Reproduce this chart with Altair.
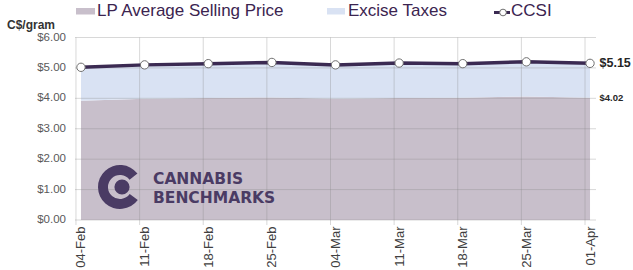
import altair as alt
import pandas as pd

# ---- data ----
dates = ["04-Feb", "11-Feb", "18-Feb", "25-Feb", "04-Mar", "11-Mar", "18-Mar", "25-Mar", "01-Apr"]
lp_price = [3.92, 3.99, 4.01, 4.03, 3.99, 4.01, 4.02, 4.06, 4.02]
ccsi = [5.02, 5.10, 5.14, 5.18, 5.10, 5.16, 5.14, 5.20, 5.15]
y_ticks = [0, 1, 2, 3, 4, 5, 6]
legend_names = ["LP Average Selling Price", "Excise Taxes", "CCSI"]
unit_label = "C$/gram"
logo_lines = ["CANNABIS", "BENCHMARKS"]

LP_C = "#c8bfcb"
EX_C = "#d9e2f3"
LINE_C = "#3b2a52"
TXT_C = "#3b2450"
LOGO_C = "#4a3b64"
FONT = "Liberation Sans"

df = pd.DataFrame({"date": dates, "lp": lp_price, "ccsi": ccsi})
last = df.tail(1)
grid_df = pd.DataFrame({"v": y_ticks})

xscale = alt.Scale(type="point", padding=0.094)
yscale = alt.Scale(domain=[0, 6])

x_axis = alt.Axis(title=None, labelAngle=-90, labelFontSize=13, labelColor="#404040",
                  labelFont=FONT, labelPadding=6, domain=False, ticks=False, grid=False,
                  labelOverlap=False)
# y axis kept invisible; its labels are drawn as text marks through the same y scale
y_axis = alt.Axis(title=None, labels=False, domain=False, ticks=False, grid=False)

X = alt.X("date:O", sort=dates, scale=xscale, axis=x_axis)


def Y(field):
    return alt.Y(field, scale=yscale, axis=y_axis)


base = alt.Chart(df)

lp_area = base.mark_area(color=LP_C, opacity=1).encode(x=X, y=Y("lp:Q"), y2=alt.datum(0))
ex_area = base.mark_area(color=EX_C, opacity=1).encode(x=X, y=Y("ccsi:Q"), y2="lp:Q")
hgrid = alt.Chart(grid_df).mark_rule(color="#888888", opacity=0.33, strokeWidth=1).encode(y=Y("v:Q"))
ylabels = alt.Chart(grid_df).mark_text(align="right", baseline="middle", dx=-9, fontSize=11.5,
                                       font=FONT, color="#595959").encode(
    x=alt.value(0), y=Y("v:Q"), text=alt.Text("v:Q", format="$.2f"))
vgrid = base.mark_rule(color="#888888", opacity=0.33, strokeWidth=1, xOffset=-5, y2Offset=5).encode(
    x=X, y=alt.datum(6), y2=alt.datum(0))
line = base.mark_line(color=LINE_C, strokeWidth=3.5).encode(x=X, y=Y("ccsi:Q"))
pts = base.mark_point(shape="circle", filled=True, fill="white", stroke="#707070",
                      strokeWidth=1, size=70, opacity=1).encode(x=X, y=Y("ccsi:Q"))
lab_ccsi = alt.Chart(last).mark_text(align="left", baseline="middle", dx=9.5, fontSize=12.5,
                                     fontWeight="bold", font=FONT, color="#262626").encode(
    x=X, y=Y("ccsi:Q"), text=alt.Text("ccsi:Q", format="$.2f"))
lab_lp = alt.Chart(last).mark_text(align="left", baseline="middle", dx=9.5, dy=0.5, fontSize=9.5,
                                   fontWeight="bold", font=FONT, color="#262626").encode(
    x=X, y=Y("lp:Q"), text=alt.Text("lp:Q", format="$.2f"))

# ---- logo ----
one = pd.DataFrame({"a": [0]})
logo_c = alt.Chart(one).mark_arc(radius=22, radius2=12, color=LOGO_C).encode(
    x=alt.value(45), y=alt.value(149.5), theta=alt.value(2.2), theta2=alt.value(7.2))
logo_dot = alt.Chart(one).mark_point(shape="circle", filled=True, color=LOGO_C, size=230, opacity=1).encode(
    x=alt.value(47), y=alt.value(149.5))
logo_txt = alt.Chart(one).mark_text(text=logo_lines, align="left", baseline="alphabetic",
                                    lineHeight=18.5, font="DejaVu Sans", fontWeight="bold",
                                    fontSize=15.5, color=LOGO_C).encode(
    x=alt.value(78), y=alt.value(146.5))

# ---- legend (top) ----
leg_sq1 = alt.Chart(one).mark_rect(color=LP_C).encode(
    x=alt.value(1), x2=alt.value(20), y=alt.value(-29.5), y2=alt.value(-23))
leg_t1 = alt.Chart(one).mark_text(text=legend_names[0], align="left", baseline="alphabetic",
                                  font=FONT, fontSize=17, color=TXT_C).encode(
    x=alt.value(22), y=alt.value(-22))
leg_sq2 = alt.Chart(one).mark_rect(color=EX_C).encode(
    x=alt.value(252), x2=alt.value(270), y=alt.value(-29.5), y2=alt.value(-23))
leg_t2 = alt.Chart(one).mark_text(text=legend_names[1], align="left", baseline="alphabetic",
                                  font=FONT, fontSize=17, color=TXT_C).encode(
    x=alt.value(273), y=alt.value(-22))
leg_ln = alt.Chart(one).mark_rule(color=LINE_C, strokeWidth=3).encode(
    x=alt.value(419), x2=alt.value(435), y=alt.value(-25))
leg_pt = alt.Chart(one).mark_point(shape="circle", filled=True, fill="white", stroke="#707070",
                                   strokeWidth=1, size=45, opacity=1).encode(
    x=alt.value(428), y=alt.value(-25))
leg_t3 = alt.Chart(one).mark_text(text=legend_names[2], align="left", baseline="alphabetic",
                                  font=FONT, fontSize=17, color=TXT_C).encode(
    x=alt.value(436), y=alt.value(-22))
unit = alt.Chart(one).mark_text(text=unit_label, align="left", baseline="alphabetic",
                                font=FONT, fontSize=12, fontWeight="bold", color="#333333").encode(
    x=alt.value(-68), y=alt.value(-9))

chart = alt.layer(
    lp_area, ex_area, hgrid, ylabels, vgrid, line, pts, lab_ccsi, lab_lp,
    logo_c, logo_dot, logo_txt,
    leg_sq1, leg_t1, leg_sq2, leg_t2, leg_ln, leg_pt, leg_t3, unit,
).properties(
    width=521, height=182.5,
    autosize=alt.AutoSizeParams(type="none"),
    padding={"left": 75, "top": 37.5, "right": 37, "bottom": 50},
    background="white",
).configure_view(stroke=None)

chart.save("out.html", embed_options={"renderer": "svg", "actions": False})
